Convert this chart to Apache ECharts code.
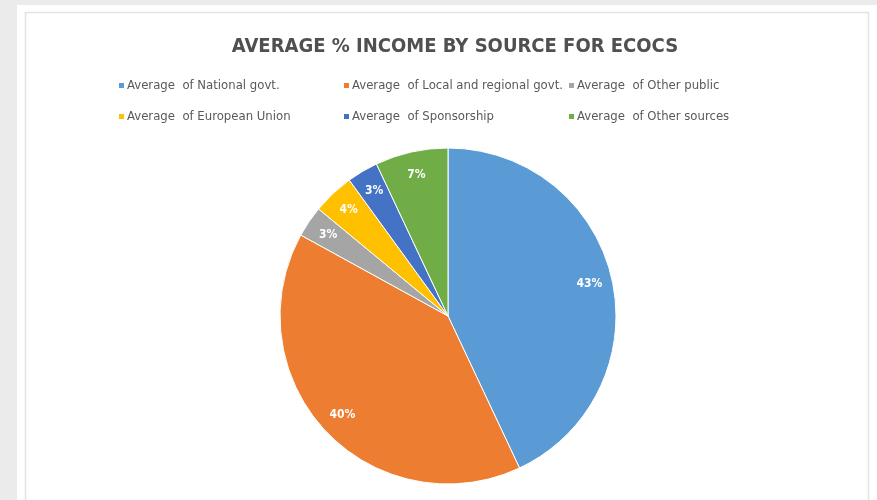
<!DOCTYPE html>
<html>
<head>
<meta charset="utf-8">
<script src="https://cdn.jsdelivr.net/npm/echarts@6/dist/echarts.min.js"></script>
<style>html,body{margin:0;padding:0;background:#ebebeb;}#chart{width:877px;height:500px;}</style>
</head>
<body>
<div id="chart"></div>
<script>
const titleText = 'AVERAGE % INCOME BY SOURCE FOR ECOCS';
const categories = [
  'Average  of National govt.',
  'Average  of Local and regional govt.',
  'Average  of Other public',
  'Average  of European Union',
  'Average  of Sponsorship',
  'Average  of Other sources'
];
const values = [43, 40, 3, 4, 3, 7];
const colors = ['#5B9BD5', '#ED7D31', '#A5A5A5', '#FFC000', '#4472C4', '#70AD47'];

// legend placement (column/row per category)
const legendPos = [
  [117, 79], [342, 79], [567, 79],
  [117, 110], [342, 110], [567, 110]
];

const FONT = "'DejaVu Sans Condensed', 'Liberation Sans Narrow', sans-serif";
const chart = echarts.init(document.getElementById('chart'));
const data = categories.map((n, i) => ({ name: n, value: values[i], itemStyle: { color: colors[i] } }));

chart.setOption({
  backgroundColor: '#ebebeb',
  animation: false,
  graphic: [
    { type: 'rect', shape: { x: 17, y: 5, width: 860, height: 495 }, style: { fill: '#ffffff' }, z: -10 },
    { type: 'rect', shape: { x: 25.5, y: 12.5, width: 843, height: 500 }, style: { fill: 'none', stroke: '#e2e2e2', lineWidth: 1.5 }, z: -9 }
  ],
  title: {
    text: titleText,
    left: 450, top: 32, textAlign: 'center',
    textStyle: { fontFamily: FONT, fontSize: 20, fontWeight: 'bold', color: '#505050' }
  },
  legend: categories.map((n, i) => ({
    data: [n],
    left: legendPos[i][0], top: legendPos[i][1],
    padding: 0, itemWidth: 7, itemHeight: 7, icon: 'rect',
    selectedMode: false,
    textStyle: { fontFamily: FONT, fontSize: 13, color: '#595959', padding: [0, 0, 0, -3] }
  })),
  series: [
    {
      type: 'pie',
      center: [448, 316],
      radius: [0, 168],
      startAngle: 90,
      clockwise: true,
      data: data,
      label: { show: false },
      labelLine: { show: false },
      itemStyle: { borderColor: '#ffffff', borderWidth: 1 },
      silent: true
    },
    {
      type: 'pie',
      center: [448, 316],
      radius: [116, 168],
      startAngle: 90,
      clockwise: true,
      data: categories.map((n, i) => ({ name: n, value: values[i] })),
      itemStyle: { color: 'rgba(0,0,0,0)' },
      label: {
        show: true, position: 'inside', formatter: '{c}%',
        fontFamily: FONT, fontSize: 12, fontWeight: 'bold', color: '#ffffff'
      },
      labelLine: { show: false },
      silent: true,
      z: 3
    }
  ]
});
</script>
</body>
</html>
